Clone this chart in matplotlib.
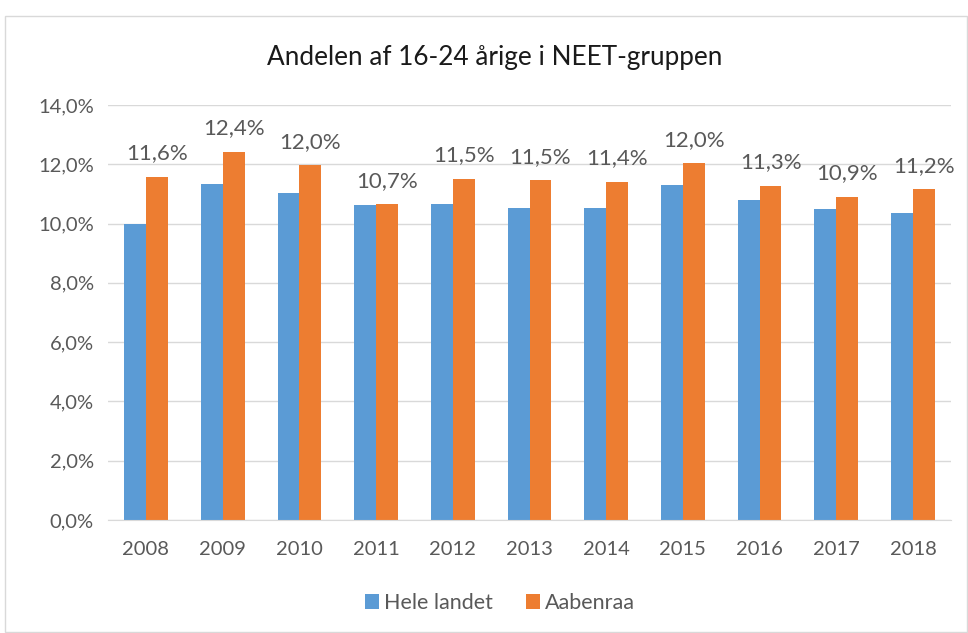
import matplotlib
matplotlib.use("Agg")
import matplotlib.pyplot as plt
from matplotlib.patches import Rectangle
import numpy as np

years = ["2008", "2009", "2010", "2011", "2012", "2013", "2014", "2015", "2016", "2017", "2018"]
hele_landet = [10.0, 11.34, 11.04, 10.61, 10.65, 10.53, 10.52, 11.30, 10.81, 10.48, 10.34]
aabenraa = [11.58, 12.43, 11.97, 10.66, 11.51, 11.47, 11.41, 12.04, 11.28, 10.90, 11.16]
series_names = ["Hele landet", "Aabenraa"]
title = "Andelen af 16-24 årige i NEET-gruppen"

plt.rcParams['font.family'] = ['Lato', 'DejaVu Sans']
txt = "#595959"
blue = "#5B9BD5"
orange = "#ED7D31"

fig = plt.figure(figsize=(9.68, 6.33), dpi=100)
fig.patches.append(Rectangle((5/968, 0.001), 962/968, 1 - 16/633 - 0.001, transform=fig.transFigure,
                             fill=False, edgecolor="#D9D9D9", linewidth=1))
ax = fig.add_axes([107.6/968, 1-520/633, (951.4-107.6)/968, (520-105)/633])

x = np.arange(len(years))
w = 0.285
b1 = ax.bar(x - w/2, hele_landet, w, color=blue, label=series_names[0], zorder=3)
b2 = ax.bar(x + w/2, aabenraa, w, color=orange, label=series_names[1], zorder=3)

for xi, v in zip(x, aabenraa):
    ax.text(xi + w/2, v + 0.45, f"{v:.1f}%".replace(".", ","), ha="center", va="bottom",
            fontsize=16, color=txt)

ax.set_xlim(-0.5, len(years) - 0.5)
ax.set_ylim(0, 14)
yt = np.arange(0, 15, 2)
ax.set_yticks(yt)
ax.set_yticklabels([f"{t:.1f}%".replace(".", ",") for t in yt])
ax.set_xticks(x)
ax.set_xticklabels(years)
ax.tick_params(axis="both", length=0, labelsize=14.5, labelcolor=txt)
ax.tick_params(axis="y", pad=10)
ax.tick_params(axis="x", pad=15)
ax.grid(axis="y", color="#D9D9D9", linewidth=1, zorder=0)
for s in ["top", "right", "left"]:
    ax.spines[s].set_visible(False)
ax.spines["bottom"].set_color("#D9D9D9")
ax.spines["bottom"].set_zorder(4)

fig.text(495/968, 1 - 57/633, title, ha="center", va="center", fontsize=18.8,
         color="#1a1a1a")

leg = fig.legend(handles=[b1, b2], labels=series_names, loc="center", bbox_to_anchor=(500/968, 1-603/633),
                 ncol=2, frameon=False, fontsize=15.5, handlelength=0.65, handleheight=0.65,
                 columnspacing=1.5, handletextpad=0.25)
for t in leg.get_texts():
    t.set_color(txt)

fig.savefig("out.png", dpi=100)
